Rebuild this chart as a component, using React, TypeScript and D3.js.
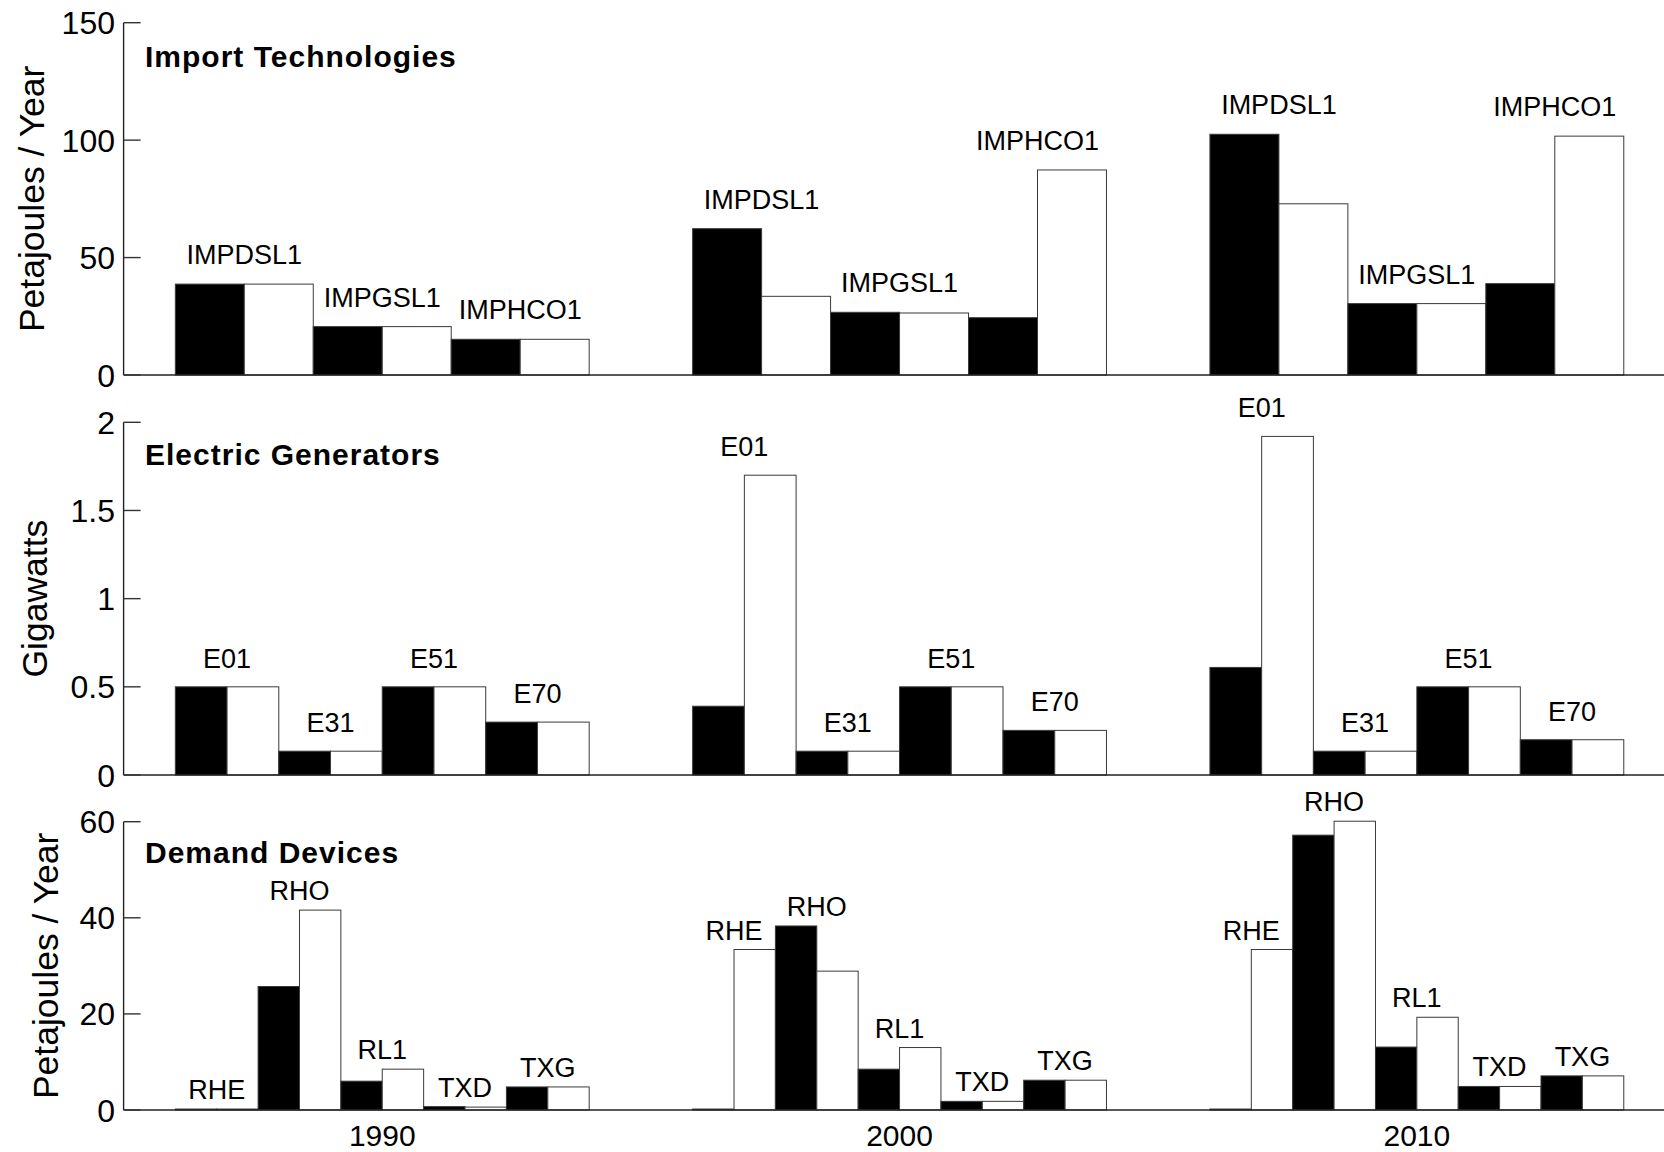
import React from "react";
import * as d3 from "d3";

// ---------- data ----------
const years = [1990, 2000, 2010];

const importTechs = ["IMPDSL1", "IMPGSL1", "IMPHCO1"];
const importBlack = [
  [38.7, 20.6, 15.2],
  [62.3, 26.7, 24.4],
  [102.5, 30.4, 38.9],
];
const importWhite = [
  [38.7, 20.6, 15.2],
  [33.5, 26.4, 87.3],
  [72.9, 30.4, 101.7],
];
const importTicks = [0, 50, 100, 150];

const genTechs = ["E01", "E31", "E51", "E70"];
const genBlack = [
  [0.5, 0.135, 0.5, 0.3],
  [0.39, 0.135, 0.5, 0.253],
  [0.61, 0.135, 0.5, 0.2],
];
const genWhite = [
  [0.5, 0.135, 0.5, 0.3],
  [1.7, 0.135, 0.5, 0.253],
  [1.92, 0.135, 0.5, 0.2],
];
const genTicks = [0, 0.5, 1, 1.5, 2];

const demandTechs = ["RHE", "RHO", "RL1", "TXD", "TXG"];
const demandBlack = [
  [0.2, 25.7, 6.0, 0.7, 4.8],
  [0.2, 38.3, 8.5, 1.8, 6.2],
  [0.2, 57.2, 13.1, 4.9, 7.1],
];
const demandWhite = [
  [0.2, 41.6, 8.5, 0.6, 4.8],
  [33.4, 28.9, 13.0, 1.8, 6.2],
  [33.4, 60.1, 19.3, 4.9, 7.1],
];
const demandTicks = [0, 20, 40, 60];

// ---------- layout ----------
const W = 1664;
const H = 1152;
const FONT = "'Liberation Sans', Arial, Helvetica, sans-serif";
const AXIS_X0 = 123.6;
const PX_PER_YEAR = 51.73;
const x = d3
  .scaleLinear()
  .domain([1985, 2015])
  .range([AXIS_X0, AXIS_X0 + 30 * PX_PER_YEAR]);

type Spec = {
  techs: string[];
  black: number[][];
  white: number[][];
  ticks: number[];
  yRange: [number, number];
  title: string;
  titleY: number;
  yLabel: string;
  yLabelX: number;
  labelGap: number;
};

const panels: Spec[] = [
  {
    techs: importTechs,
    black: importBlack,
    white: importWhite,
    ticks: importTicks,
    yRange: [375, 22.7],
    title: "Import Technologies",
    titleY: 66.7,
    yLabel: "Petajoules / Year",
    yLabelX: 43.5,
    labelGap: 20,
  },
  {
    techs: genTechs,
    black: genBlack,
    white: genWhite,
    ticks: genTicks,
    yRange: [775, 422.3],
    title: "Electric Generators",
    titleY: 465,
    yLabel: "Gigawatts",
    yLabelX: 46.5,
    labelGap: 19,
  },
  {
    techs: demandTechs,
    black: demandBlack,
    white: demandWhite,
    ticks: demandTicks,
    yRange: [1110, 821.7],
    title: "Demand Devices",
    titleY: 863,
    yLabel: "Petajoules / Year",
    yLabelX: 57.5,
    labelGap: 10,
  },
];

function Panel({ spec }: { spec: Spec }) {
  const tmax = spec.ticks[spec.ticks.length - 1];
  const y = d3.scaleLinear().domain([0, tmax]).range(spec.yRange);
  const nBars = spec.techs.length * 2;
  const bw = 8 / nBars;
  const y0 = y(0);
  const x0 = x(1985);
  const yMid = (y(0) + y(tmax)) / 2;

  const bars: JSX.Element[] = [];
  const labels: JSX.Element[] = [];
  years.forEach((yr, gi) => {
    spec.techs.forEach((tech, ti) => {
      const vals = [spec.black[gi][ti], spec.white[gi][ti]];
      vals.forEach((v, si) => {
        const xs = yr - 4 + (2 * ti + si) * bw;
        const left = x(xs);
        const right = x(xs + bw);
        bars.push(
          <rect
            key={`b-${gi}-${ti}-${si}`}
            x={left}
            y={y(v)}
            width={right - left}
            height={y0 - y(v)}
            fill={si === 0 ? "#000" : "#fff"}
            stroke="#3a3a3a"
            strokeWidth={1}
          />
        );
      });
      const cx = x(yr - 4 + (2 * ti + 1) * bw);
      const top = y(Math.max(vals[0], vals[1]));
      labels.push(
        <text
          key={`l-${gi}-${ti}`}
          x={cx}
          y={top - spec.labelGap}
          textAnchor="middle"
          fontSize={27}
          fontFamily={FONT}
          fill="#000"
        >
          {tech}
        </text>
      );
    });
  });

  return (
    <g>
      {bars}
      {labels}
      {/* axes */}
      <line x1={x0} x2={W} y1={y0} y2={y0} stroke="#222" strokeWidth={1.4} />
      <line x1={x0} x2={x0} y1={y(tmax)} y2={y0} stroke="#222" strokeWidth={1.4} />
      {spec.ticks.map((t) => (
        <g key={`t-${t}`}>
          <line x1={x0} x2={x0 + 17} y1={y(t)} y2={y(t)} stroke="#333" strokeWidth={1.4} />
          <text
            x={115}
            y={y(t)}
            dy="0.36em"
            textAnchor="end"
            fontSize={32}
            fontFamily={FONT}
            fill="#000"
          >
            {String(t)}
          </text>
        </g>
      ))}
      <text
        x={145}
        y={spec.titleY}
        fontSize={30}
        fontWeight="bold"
        letterSpacing={1}
        fontFamily={FONT}
        fill="#000"
      >
        {spec.title}
      </text>
      <text
        transform={`translate(${spec.yLabelX},${yMid}) rotate(-90)`}
        textAnchor="middle"
        fontSize={35.5}
        fontFamily={FONT}
        fill="#000"
      >
        {spec.yLabel}
      </text>
    </g>
  );
}

export default function App() {
  return (
    <svg
      width={W}
      height={H}
      viewBox={`0 0 ${W} ${H}`}
      style={{ position: "absolute", left: 0, top: 0, background: "#fff", display: "block" }}
    >
      <rect x={0} y={0} width={W} height={H} fill="#fff" />
      {panels.map((p, i) => (
        <Panel key={i} spec={p} />
      ))}
      {years.map((yr) => (
        <text
          key={`yr-${yr}`}
          x={x(yr)}
          y={1146}
          textAnchor="middle"
          fontSize={30}
          fontFamily={FONT}
          fill="#000"
        >
          {String(yr)}
        </text>
      ))}
    </svg>
  );
}
